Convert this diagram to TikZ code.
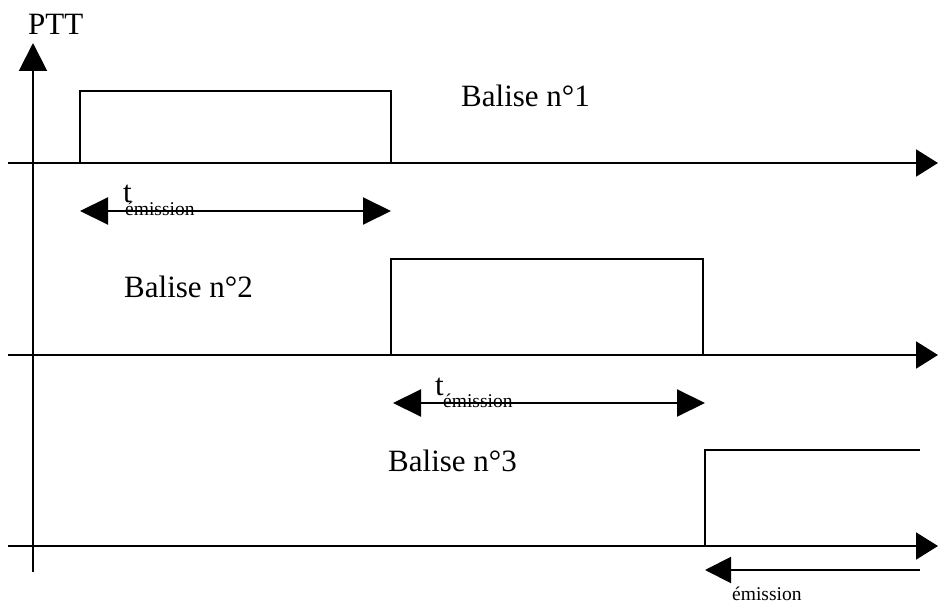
\documentclass[tikz,border=0pt]{standalone}
\usepackage{fontspec}
\setmainfont{Liberation Serif}
\usetikzlibrary{arrows.meta}
\begin{document}
\begin{tikzpicture}[x=1pt,y=-1pt,
  line/.style={line width=2pt},
  axis/.style={line, -{Triangle[length=22pt,width=27pt]}},
  dur/.style={line, {Triangle[length=28pt,width=27pt]}-{Triangle[length=28pt,width=27pt]}},
  big/.style={font=\fontsize{31}{31}\selectfont, inner sep=0pt, anchor=base west},
  small/.style={font=\fontsize{19.5}{19.5}\selectfont, inner sep=0pt, anchor=base west}]
\useasboundingbox (0,0) rectangle (938,607);
% axes
\coordinate (yb) at (33,572);
\coordinate (yt) at (33,43);
\draw[line, -{Triangle[length=28pt,width=28pt]}] (yb) -- (yt);
\coordinate (a1s) at (8,163); \coordinate (a1e) at (938,163);
\coordinate (a2s) at (8,355); \coordinate (a2e) at (938,355);
\coordinate (a3s) at (8,546); \coordinate (a3e) at (938,546);
\draw[axis] (a1s) -- (a1e);
\draw[axis] (a2s) -- (a2e);
\draw[axis] (a3s) -- (a3e);
% pulses
\draw[line] (80,163) -- (80,91) -- (391,91) -- (391,163);
\draw[line] (391,355) -- (391,259) -- (703,259) -- (703,355);
\draw[line] (705,546) -- (705,450) -- (920,450);
% durations
\coordinate (d1a) at (80,211); \coordinate (d1b) at (391,211);
\draw[dur] (d1a) -- (d1b);
\coordinate (d2a) at (393,403); \coordinate (d2b) at (705,403);
\draw[dur] (d2a) -- (d2b);
\coordinate (d3a) at (920,570); \coordinate (d3b) at (705,570);
\draw[line, -{Triangle[length=26pt,width=26pt]}] (d3a) -- (d3b);
% labels
\node[big] (ptt) at (28,35) {PTT};
\node[big] (b1) at (461,107) {Balise n°1};
\node[big] (b2) at (124,298) {Balise n°2};
\node[big] (b3) at (388,471) {Balise n°3};
\node[big] (t1) at (123,203) {t};
\node[small] (e1) at (125,215) {émission};
\node[big] (t2) at (435,395) {t};
\node[small] (e2) at (443,407) {émission};
\node[small] (e3) at (732,600) {émission};
\end{tikzpicture}
\end{document}
